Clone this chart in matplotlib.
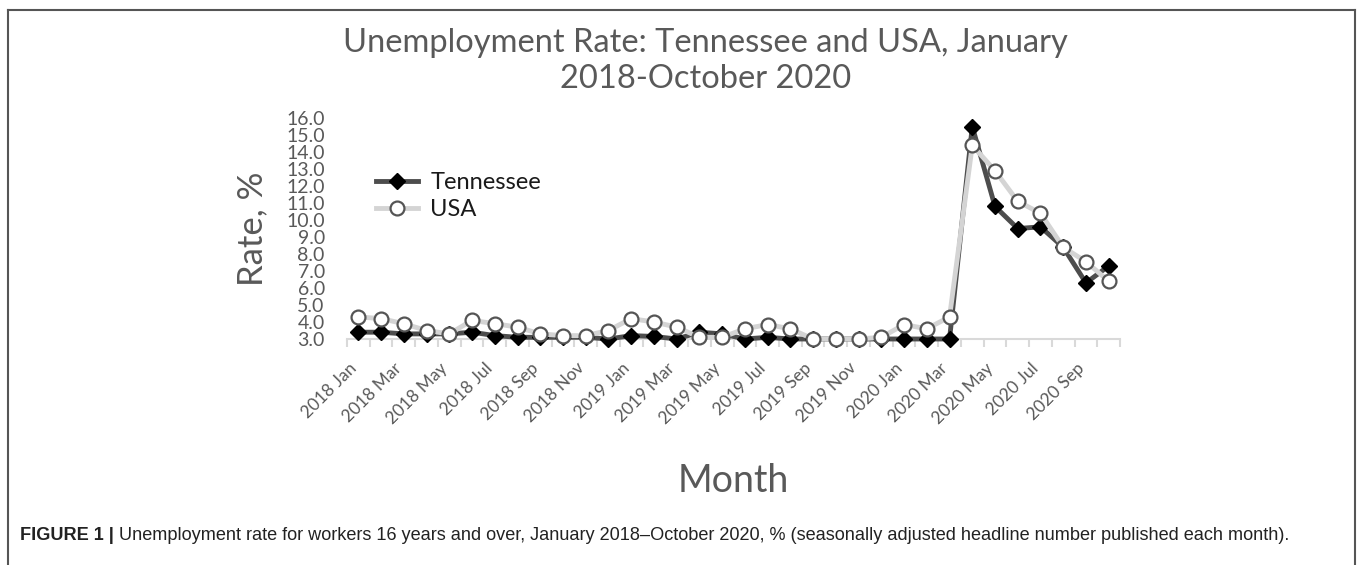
import matplotlib.pyplot as plt
from matplotlib.lines import Line2D
from matplotlib.transforms import ScaledTranslation

# months Jan 2018 .. Oct 2020
years = [2018, 2019, 2020]
month_names = ["Jan", "Feb", "Mar", "Apr", "May", "Jun",
               "Jul", "Aug", "Sep", "Oct", "Nov", "Dec"]
months = [f"{y} {m}" for y in years for m in month_names][:34]

tennessee = [3.4, 3.4, 3.3, 3.3, 3.3, 3.4, 3.2, 3.1, 3.1, 3.1, 3.1, 3.0,
             3.2, 3.15, 3.0, 3.4, 3.3, 3.0, 3.1, 3.0, 3.0, 3.0, 3.0, 3.0,
             3.0, 3.0, 3.0, 15.5, 10.8, 9.5, 9.6, 8.4, 6.3, 7.3]
usa = [4.3, 4.2, 3.9, 3.5, 3.3, 4.1, 3.9, 3.7, 3.3, 3.2, 3.2, 3.5,
       4.2, 4.0, 3.7, 3.1, 3.1, 3.6, 3.85, 3.6, 3.0, 3.0, 3.0, 3.1,
       3.85, 3.6, 4.3, 14.4, 12.9, 11.1, 10.4, 8.4, 7.55, 6.4]

y_ticks = [float(v) for v in range(3, 17)]

FONT = ["Lato", "DejaVu Sans"]
GREY = "#595959"

fig = plt.figure(figsize=(13.57, 5.65), dpi=100)
ax = fig.add_axes([0.2557, 0.400, 0.5697, 0.391])

x = list(range(len(months)))
ax.plot(x, tennessee, color="#4d4d4d", linewidth=3.5, marker="D",
        markersize=8, markerfacecolor="black", markeredgecolor="black",
        label="Tennessee", clip_on=False, zorder=3)
ax.plot(x, usa, color="#d4d4d4", linewidth=3.5, marker="o",
        markersize=10, markerfacecolor="white", markeredgecolor="#555555",
        markeredgewidth=1.6, label="USA", clip_on=False, zorder=4)

ax.set_xlim(-0.5, len(months) - 0.5)
ax.set_ylim(3, 16)

for side in ["top", "right", "left"]:
    ax.spines[side].set_visible(False)
ax.spines["bottom"].set_color("#d9d9d9")
ax.spines["bottom"].set_linewidth(1.5)

ax.set_yticks(y_ticks)
ax.set_yticklabels([f"{v:.1f}" for v in y_ticks], family=FONT,
                   fontsize=14, color=GREY)
ax.tick_params(axis="y", length=0, pad=16)

ax.set_xticks(x[::2])
ax.set_xticklabels(months[::2], rotation=45, ha="right",
                   rotation_mode="anchor", family=FONT, fontsize=12.5,
                   color=GREY)
ax.set_xticks([i - 0.5 for i in range(len(months) + 1)], minor=True)
ax.tick_params(axis="x", which="major", length=0, pad=15)
ax.tick_params(axis="x", which="minor", length=6, width=1.5,
               color="#d9d9d9", direction="out")
shift = ScaledTranslation(-10 / 100, 0, fig.dpi_scale_trans)
for lab in ax.get_xticklabels():
    lab.set_transform(lab.get_transform() + shift)

ax.set_ylabel("Rate, %", family=FONT, fontsize=25, color=GREY, labelpad=13)
ax.set_xlabel("Month", family=FONT, fontsize=27, color=GREY, labelpad=26)

fig.text(0.52, 0.892, "Unemployment Rate: Tennessee and USA, January\n"
         "2018-October 2020", ha="center", va="center", family=FONT,
         fontsize=23.5, color=GREY, linespacing=1.25)

leg = ax.legend(loc="upper left", bbox_to_anchor=(0.01, 0.85), frameon=False,
                prop={"family": FONT, "size": 17}, handlelength=1.8,
                handletextpad=0.5, labelspacing=0.25)
for t in leg.get_texts():
    t.set_color("#1a1a1a")

# caption below the chart
cap1 = fig.text(0.0147, 0.053, "FIGURE 1 |", family="Liberation Sans",
                fontsize=13.1, weight="bold", color="#222222", va="center")
fig.canvas.draw()
bb = cap1.get_window_extent()
fig.text(bb.x1 / fig.bbox.width + 0.004, 0.053,
         "Unemployment rate for workers 16 years and over, January 2018\u2013October 2020, "
         "% (seasonally adjusted headline number published each month).",
         family="Liberation Sans", fontsize=13.1, color="#222222", va="center")

# frame around the figure
for xs, ys in [([0.006, 0.006], [0, 0.9823]), ([0.006, 0.9985], [0.9823, 0.9823]),
               ([0.9985, 0.9985], [0, 0.9823])]:
    fig.add_artist(Line2D(xs, ys, color="#555555", linewidth=1.5,
                          transform=fig.transFigure))

fig.savefig("out.png", dpi=100)
